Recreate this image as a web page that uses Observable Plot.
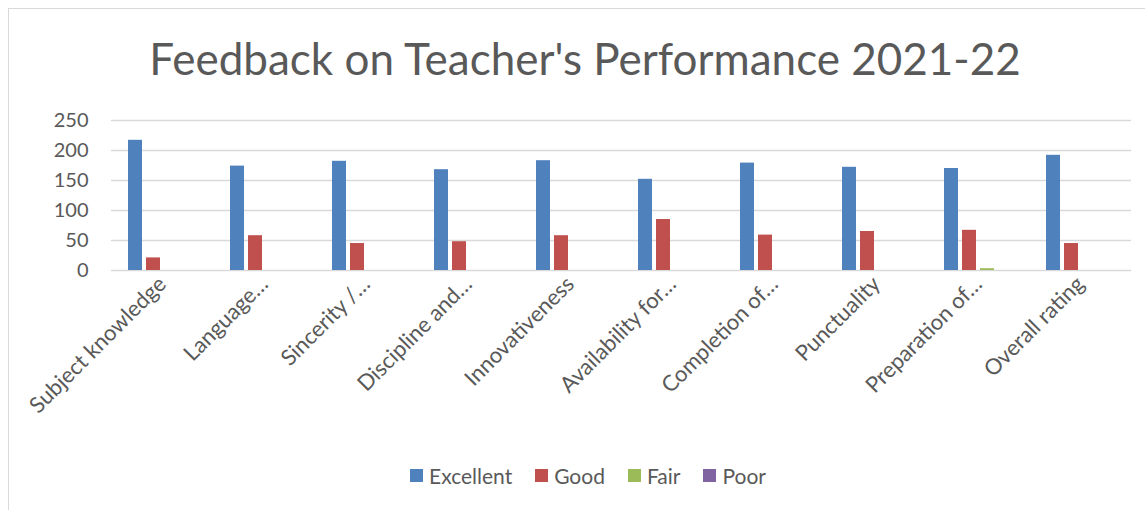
<!DOCTYPE html>
<html>
<head>
<meta charset="utf-8">
<script src="https://cdn.jsdelivr.net/npm/d3@7"></script>
<script src="https://cdn.jsdelivr.net/npm/@observablehq/plot@0.6"></script>
<style>
  html, body { margin: 0; padding: 0; background: #fff; }
  body { width: 1145px; height: 510px; position: relative; overflow: hidden; font-family: Lato, "Open Sans", sans-serif; color: #595959; }
  #frame { position: absolute; left: 8px; top: 8px; width: 1160px; height: 520px; border: 1px solid #d9d9d9; box-sizing: border-box; }
  #title { position: absolute; left: 0; width: 1170px; top: 36px; text-align: center; font-size: 44px; line-height: 44px; color: #595959; white-space: nowrap; }
  #chart { position: absolute; left: 0; top: 100px; }
  #legend { position: absolute; left: 0; width: 1176px; top: 463px; height: 24px; display: flex; justify-content: center; align-items: center; font-size: 21px; color: #595959; }
  .item { display: flex; align-items: center; margin: 0 11.5px; }
  .sw { width: 13px; height: 13px; margin-right: 6px; }
</style>
</head>
<body>
<div id="frame"></div>
<div id="title">Feedback on Teacher's Performance 2021-22</div>
<div id="chart"></div>
<div id="legend"></div>
<script>
const categories = ["Subject knowledge", "Language…", "Sincerity /…", "Discipline and…", "Innovativeness", "Availability for…", "Completion of…", "Punctuality", "Preparation of…", "Overall rating"];
const series = ["Excellent", "Good", "Fair", "Poor"];
const colors = ["#4f81bd", "#c0504d", "#9bbb59", "#8064a2"];
const excellent = [217, 174, 182, 168, 183, 152, 179, 172, 170, 192];
const good = [21, 58, 45, 48, 58, 85, 59, 65, 67, 45];
const fair = [0, 0, 0, 0, 0, 0, 0, 0, 3, 0];
const poor = [0, 0, 0, 0, 0, 0, 0, 0, 0, 0];
const yTicks = [0, 50, 100, 150, 200, 250];

const valuesBySeries = [excellent, good, fair, poor];
const data = [];
categories.forEach((c, i) => {
  series.forEach((s, j) => data.push({category: c, series: s, value: valuesBySeries[j][i]}));
});

const plot = Plot.plot({
  width: 1145,
  height: 330,
  marginLeft: 111,
  marginRight: 14,
  marginTop: 20,
  marginBottom: 160,
  style: {fontFamily: "Lato, 'Open Sans', sans-serif", color: "#595959", background: "transparent"},
  fx: {domain: categories, padding: 0, label: null},
  x: {domain: series, type: "band", paddingInner: 0.24, paddingOuter: 0.86, axis: null},
  y: {domain: [0, 250], label: null},
  color: {domain: series, range: colors},
  marks: [
    Plot.ruleY(yTicks, {stroke: "#d9d9d9", strokeWidth: 1.3}),
    Plot.barY(data, {fx: "category", x: "series", y: "value", fill: "series"}),
    Plot.axisY(yTicks, {tickSize: 0, tickPadding: 23, fontSize: 20, fill: "#595959", label: null}),
    Plot.axisFx({anchor: "bottom", tickRotate: -45, tickSize: 0, tickPadding: 10, fontSize: 22, fill: "#595959", label: null})
  ]
});
document.getElementById("chart").appendChild(plot);

const legend = document.getElementById("legend");
series.forEach((s, j) => {
  const item = document.createElement("div");
  item.className = "item";
  const sw = document.createElement("div");
  sw.className = "sw";
  sw.style.background = colors[j];
  const t = document.createElement("span");
  t.textContent = s;
  item.appendChild(sw);
  item.appendChild(t);
  legend.appendChild(item);
});
</script>
</body>
</html>
